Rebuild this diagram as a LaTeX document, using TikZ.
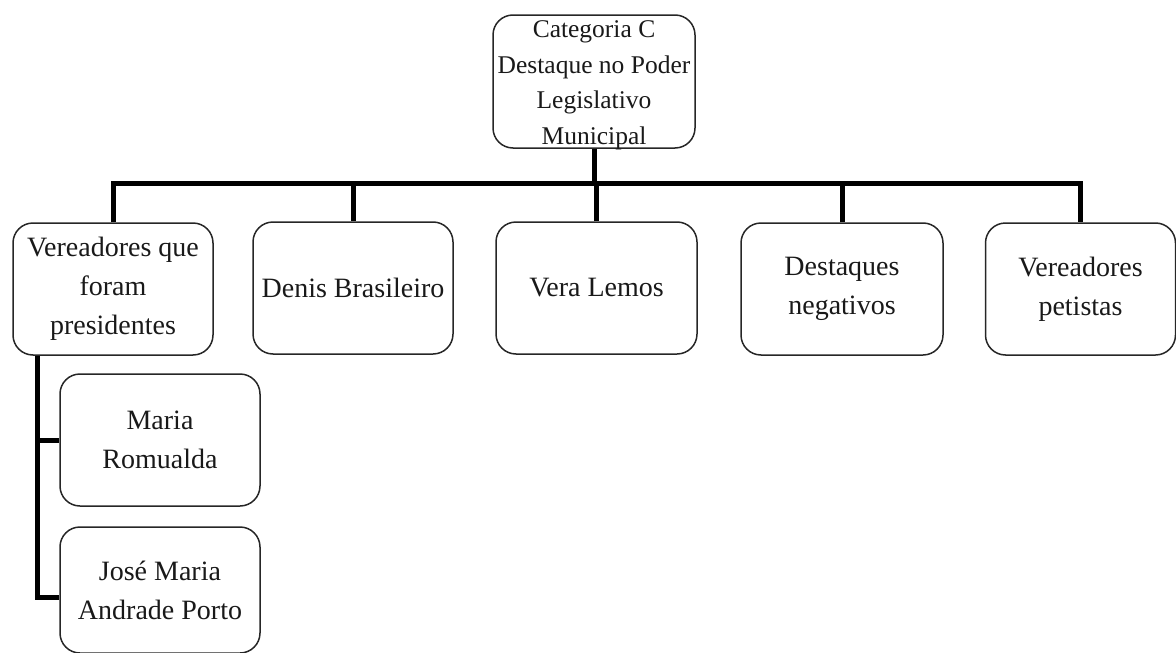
\documentclass[tikz,border=0pt]{standalone}
\usepackage{fontspec}
\setmainfont{Liberation Serif}
\begin{document}
\begin{tikzpicture}[x=1pt,y=-1pt,
  box/.style={draw=black!85, line width=1.5pt, rounded corners=20pt,
    rectangle, inner sep=0pt, align=center, text=black!90,
    font=\fontsize{28}{39}\selectfont},
  rootfont/.style={align=center, inner sep=0pt, text=black!90,
    font=\fontsize{25.5}{35.5}\selectfont},
  conn/.style={draw=black, line width=5pt}]
\useasboundingbox (0,0) rectangle (1176,653);

% root box and its text, set a little below the box centre
\node[box, minimum width=202pt, minimum height=133pt] (root) at (594,81.5) {};
\node[rootfont] (roottext) at (594,85.5)
  {Categoria C\\Destaque no Poder\\Legislativo\\Municipal};

% first level
\node[box, minimum width=200pt, minimum height=132pt] (b1) at (113,289)
  {Vereadores que\\foram\\presidentes};
\node[box, minimum width=200pt, minimum height=132pt] (b2) at (353,288)
  {Denis Brasileiro};
\node[box, minimum width=201pt, minimum height=132pt] (b3) at (596.5,288)
  {Vera Lemos};
\node[box, minimum width=202pt, minimum height=132pt] (b4) at (842,289)
  {Destaques\\negativos};
\node[box, minimum width=190pt, minimum height=132pt] (b5) at (1080.5,289)
  {Vereadores\\petistas};

% second level under b1
\node[box, minimum width=200pt, minimum height=132pt] (maria) at (160,440)
  {Maria\\Romualda};
\node[box, minimum width=200pt, minimum height=126pt] (jose) at (160,590)
  {José Maria\\Andrade Porto};

% connectors
\coordinate (bus) at (0,183);
\coordinate (spine) at (37,0);
\draw[conn] (root.south) -- (root.south |- bus);
\draw[conn] (b1.north) -- (b1.north |- bus) -- (b5.north |- bus) -- (b5.north);
\draw[conn] (b2.north) -- (b2.north |- bus);
\draw[conn] (b3.north) -- (b3.north |- bus);
\draw[conn] (b4.north) -- (b4.north |- bus);
\draw[conn] (b1.south -| spine) |- ([yshift=-7pt]jose.west);
\draw[conn] (maria.west -| spine) -- (maria.west);
\end{tikzpicture}
\end{document}
